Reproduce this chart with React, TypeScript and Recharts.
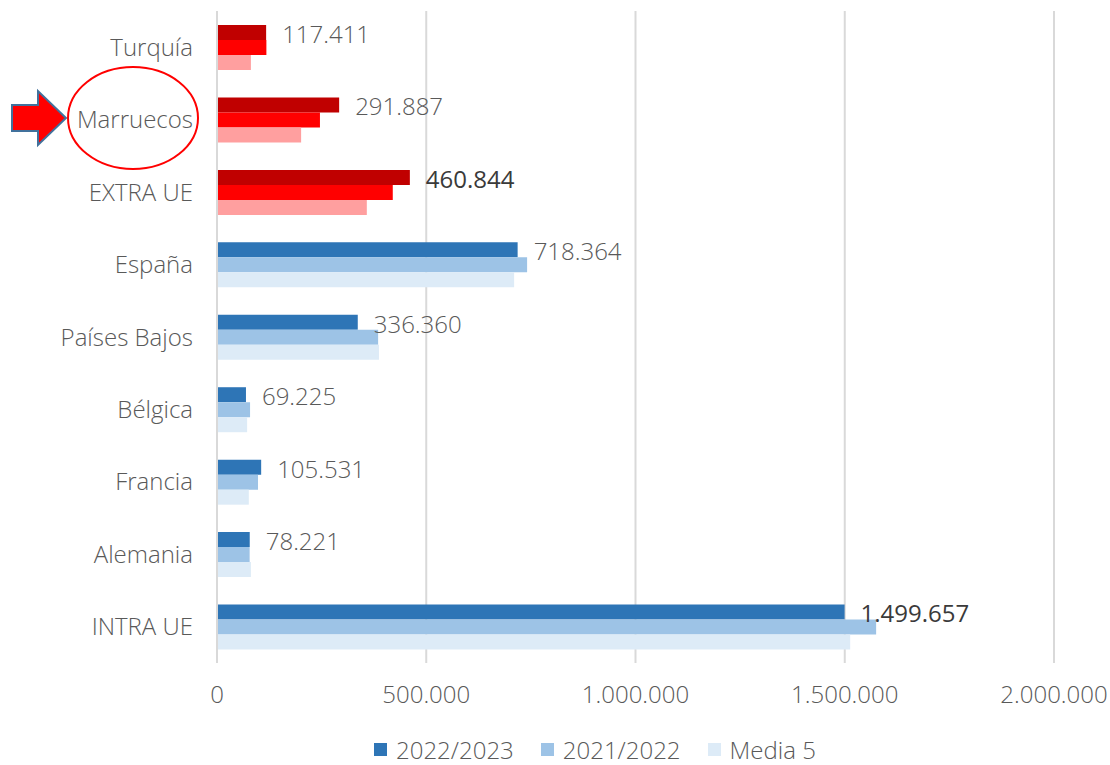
import React from "react"
import { BarChart, Bar, XAxis, YAxis, CartesianGrid, Cell, LabelList } from "recharts"

const categories = ["Turquía", "Marruecos", "EXTRA UE", "España", "Países Bajos", "Bélgica", "Francia", "Alemania", "INTRA UE"]
const s2223 = [117411, 291887, 460844, 718364, 336360, 69225, 105531, 78221, 1499657]
const s2122 = [118000, 246000, 420000, 741000, 385000, 79000, 98000, 78000, 1575000]
const media5 = [81000, 201000, 358000, 710000, 387000, 72000, 76000, 81000, 1513000]
const xTicks = [0, 500000, 1000000, 1500000, 2000000]
const seriesNames = ["2022/2023", "2021/2022", "Media 5"]

const blues = ["#2E75B6", "#9DC3E6", "#DDEBF7"]
const reds = ["#C00000", "#FF0000", "#FF9F9F"]
const redCats = ["Turquía", "Marruecos", "EXTRA UE"]
const boldLabels = ["EXTRA UE", "INTRA UE"]

const data = categories.map((c, i) => ({ name: c, a: s2223[i], b: s2122[i], c: media5[i] }))

const fmt = (v: number) => String(Math.round(v)).replace(/\B(?=(\d{3})+(?!\d))/g, ".")

const FONT = "'Open Sans', Lato, sans-serif"
const FS = 24

function ValueLabel(props: any) {
  const { x, y, width, height, value, index } = props
  const dark = boldLabels.includes(categories[index])
  return (
    <text x={x + width + 16} y={y + height / 2 + 4} dominantBaseline="middle" fontSize={FS}
      fontFamily={FONT} fill={dark ? "#3A3A3A" : "#595959"} fontWeight={dark ? 400 : 300}>
      {fmt(value)}
    </text>
  )
}

export default function App() {
  const keys = ["a", "b", "c"]
  const tick = { fontSize: FS, fill: "#595959", fontFamily: FONT, fontWeight: 300 }
  return (
    <div style={{ position: "relative", width: 1110, height: 765, fontFamily: FONT }}>
      <style>{`body{margin:0}`}</style>
      <BarChart width={1110} height={765} data={data} layout="vertical"
        margin={{ top: 11, right: 56, bottom: 52, left: 0 }} barSize={15} barGap={0}>
        <CartesianGrid horizontal={false} stroke="#D9D9D9" strokeWidth={2} />
        <XAxis type="number" domain={[0, 2000000]} ticks={xTicks} tickFormatter={fmt}
          axisLine={false} tickLine={false} tickMargin={17} height={50} interval={0} tick={tick} />
        <YAxis type="category" dataKey="name" width={217} tickLine={false} tickMargin={18}
          axisLine={{ stroke: "#D9D9D9", strokeWidth: 2 }} interval={0} tick={tick} />
        {keys.map((k, si) => (
          <Bar key={k} dataKey={k} name={seriesNames[si]} isAnimationActive={false}>
            {data.map((d, i) => (
              <Cell key={i} fill={redCats.includes(d.name) ? reds[si] : blues[si]} />
            ))}
            {si === 0 && <LabelList dataKey="a" content={ValueLabel} />}
          </Bar>
        ))}
      </BarChart>
      <div style={{ position: "absolute", top: 733, left: 374, display: "flex", alignItems: "center", fontSize: FS, fontWeight: 300, color: "#595959" }}>
        {seriesNames.map((n, i) => (
          <div key={n} style={{ display: "flex", alignItems: "center", marginRight: 27 }}>
            <span style={{ width: 13, height: 13, background: blues[i], display: "inline-block", marginRight: 9 }} />
            <span>{n}</span>
          </div>
        ))}
      </div>
      <svg width={1110} height={765} style={{ position: "absolute", left: 0, top: 0, pointerEvents: "none" }}>
        <ellipse cx={133} cy={118} rx={65} ry={51} fill="none" stroke="#FF0000" strokeWidth={2} />
        <polygon points="12,105 38,105 38,91 66,118 38,145 38,131 12,131"
          fill="#FF0000" stroke="#41719C" strokeWidth={2} strokeLinejoin="miter" />
      </svg>
    </div>
  )
}
